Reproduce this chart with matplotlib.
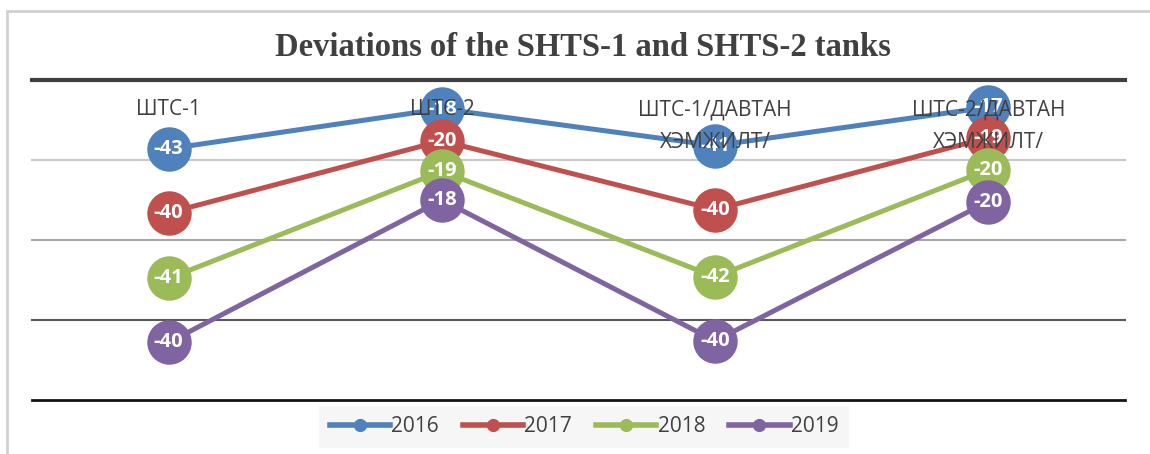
import numpy as np
import matplotlib
matplotlib.use("Agg")
import matplotlib.pyplot as plt
from matplotlib.patches import Rectangle
from matplotlib.lines import Line2D

# categories and yearly deviations (stacked line chart)
categories = ["ШТС-1", "ШТС-2", "ШТС-1/ДАВТАН\nХЭМЖИЛТ/", "ШТС-2/ДАВТАН\nХЭМЖИЛТ/"]
years = ["2016", "2017", "2018", "2019"]
dev_2016 = [-43, -18, -41, -17]
dev_2017 = [-40, -20, -40, -19]
dev_2018 = [-41, -19, -42, -20]
dev_2019 = [-40, -18, -40, -20]
y_ticks = [0, -50, -100, -150, -200]

colors = ["#4f81bd", "#c0504d", "#9bbb59", "#8064a2"]
grid_colors = ["#404040", "#c8c8c8", "#a6a6a6", "#595959", "#141414"]
grid_widths = [3.0, 1.5, 1.5, 1.5, 2.0]

series = np.array([dev_2016, dev_2017, dev_2018, dev_2019])
stacked = np.cumsum(series, axis=0)

W, H = 1150, 454
fig = plt.figure(figsize=(W / 100, H / 100), dpi=100)
fig.patch.set_facecolor("white")

# chart frame
fig.patches.append(Rectangle((7 / W, -0.1), 1.2, 1 - 10.5 / H + 0.1, transform=fig.transFigure,
                             fill=False, edgecolor="#d0d0d0", linewidth=2.0))

ax = fig.add_axes([32 / W, 1 - 400 / H, 1093 / W, 320 / H])
x = np.arange(len(categories))
ax.set_xlim(-0.5, len(categories) - 0.5)
ax.set_ylim(-200, 0)
ax.set_yticks(y_ticks)
ax.set_xticks([])
ax.tick_params(left=False, labelleft=False)
for s in ax.spines.values():
    s.set_visible(False)
for yv, gc, gw in zip(y_ticks, grid_colors, grid_widths):
    ax.axhline(yv, color=gc, linewidth=gw, zorder=1, clip_on=False)

for i, (yr, col) in enumerate(zip(years, colors)):
    ax.plot(x, stacked[i], color=col, linewidth=3.6, marker="o", markersize=32,
            markeredgewidth=0, zorder=2 + i, clip_on=False)

for i in range(len(years)):
    for j in range(len(categories)):
        ax.text(x[j], stacked[i, j], str(series[i, j]), ha="center", va="center",
                color="white", fontsize=14.5, fontweight="bold", family="Open Sans", zorder=10)

# category labels sit near the top axis line, wrapped ones take two rows
for j, cat in enumerate(categories):
    for k, line in enumerate(cat.split("\n")):
        ax.text(x[j], -18.5 - k * 20.5, line, ha="center", va="center", color="#404040",
                fontsize=15, family="Open Sans", zorder=11)

fig.text(583 / W, 1 - 47 / H, "Deviations of the SHTS-1 and SHTS-2 tanks", ha="center", va="center",
         fontsize=23.5, fontweight="bold", family="Liberation Serif", color="#404040")

handles = [Line2D([0], [0], color=c, linewidth=4, marker="o", markersize=8.5) for c in colors]
leg = fig.legend(handles, years, loc="center", bbox_to_anchor=(584 / W, 1 - 427 / H), ncol=4,
                 frameon=True, fancybox=False, handlelength=2.9, handletextpad=0.05, columnspacing=1.15,
                 borderpad=0.5, borderaxespad=0, prop={"family": "Open Sans", "size": 15})
leg.get_frame().set_facecolor("#f4f4f4")
leg.get_frame().set_edgecolor("none")
for t in leg.get_texts():
    t.set_color("#404040")

fig.savefig("out.png", dpi=100)
